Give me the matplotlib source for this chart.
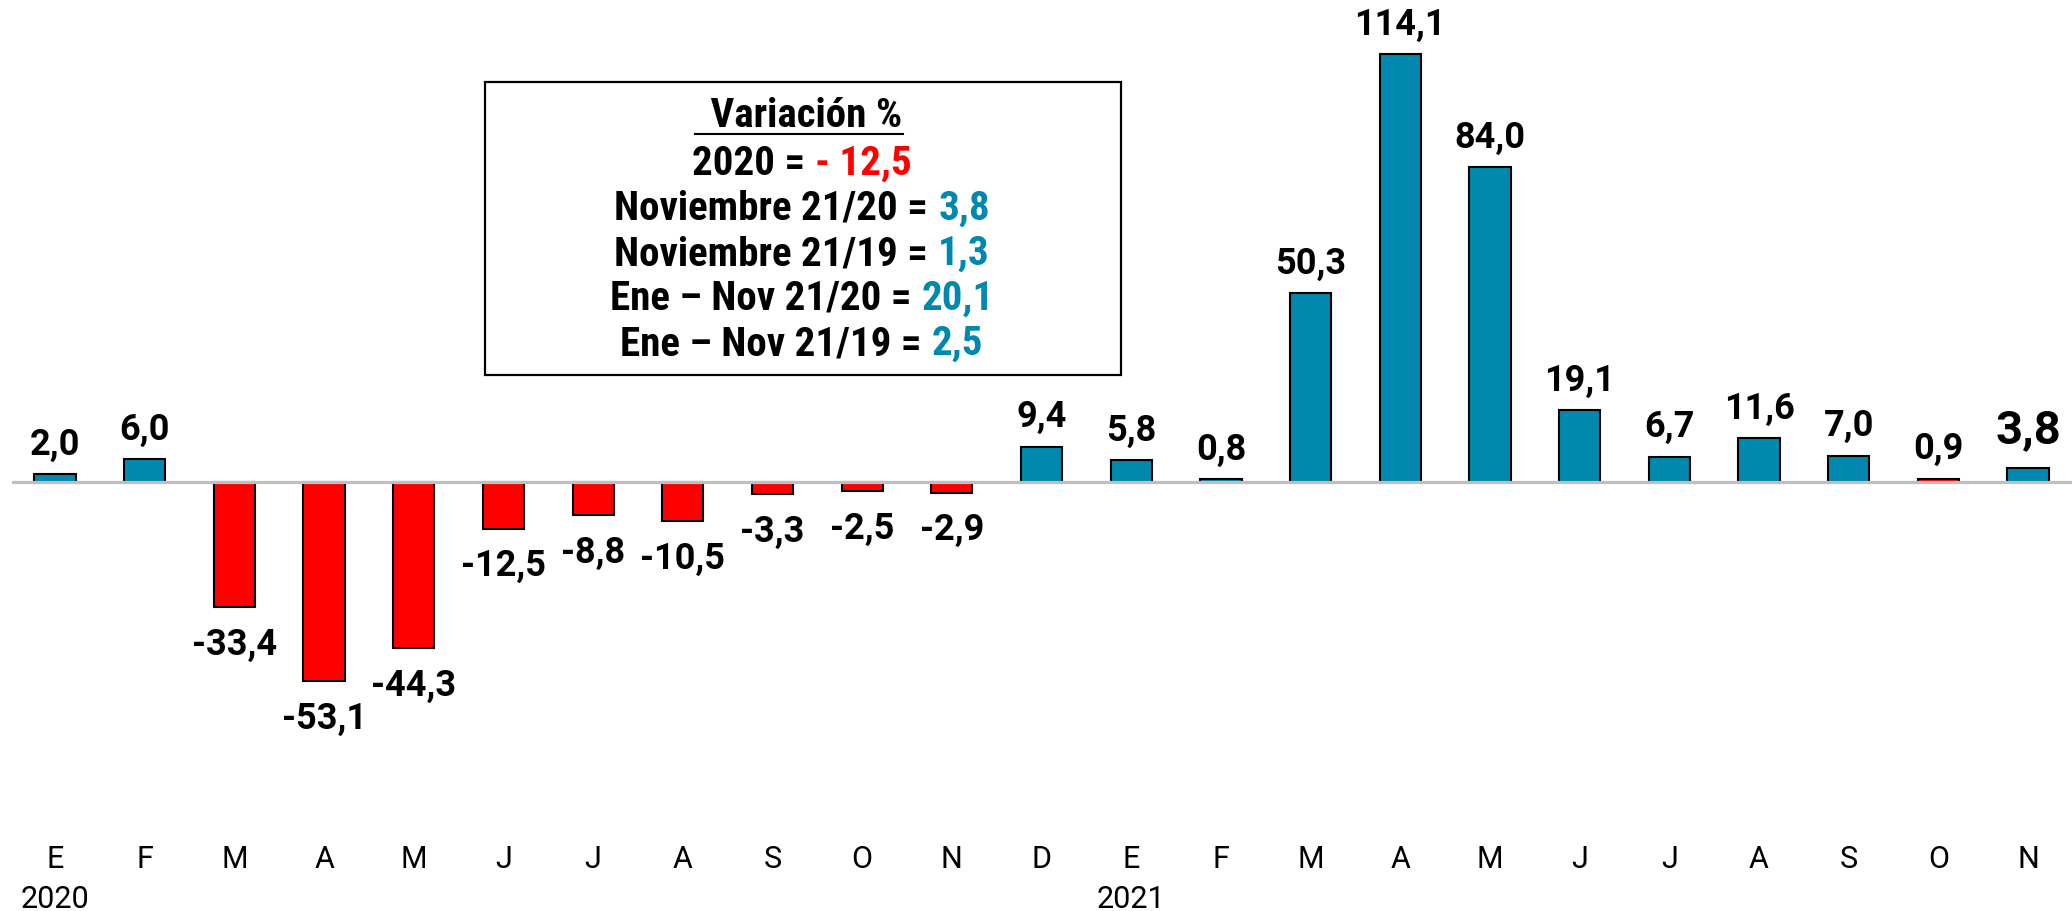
import matplotlib.pyplot as plt
from matplotlib import font_manager
from matplotlib.lines import Line2D
from matplotlib.patches import Rectangle

# Datos
meses = ['E', 'F', 'M', 'A', 'M', 'J', 'J', 'A', 'S', 'O', 'N', 'D',
         'E', 'F', 'M', 'A', 'M', 'J', 'J', 'A', 'S', 'O', 'N']
variacion = [2.0, 6.0, -33.4, -53.1, -44.3, -12.5, -8.8, -10.5, -3.3, -2.5, -2.9, 9.4,
             5.8, 0.8, 50.3, 114.1, 84.0, 19.1, 6.7, 11.6, 7.0, 0.9, 3.8]
anios = ['2020', '2021']
pos_anios = [0, 12]

titulo_recuadro = ' Variación %'
texto_negro = ['2020 =', 'Noviembre 21/20 =', 'Noviembre 21/19 =',
               'Ene \u2013 Nov 21/20 =', 'Ene \u2013 Nov 21/19 =']
texto_color = ['- 12,5', '3,8', '1,3', '20,1', '2,5']

AZUL = '#0088AE'
ROJO = '#FF0000'
colores_texto = [ROJO, AZUL, AZUL, AZUL, AZUL]
colores = [ROJO if v < 0 else AZUL for v in variacion]
colores[21] = ROJO  # octubre 2021 aparece rojizo

nombres = {f.name for f in font_manager.fontManager.ttflist}
fuente_cond = next((n for n in ['Roboto Condensed', 'Liberation Sans Narrow'] if n in nombres), 'Roboto')
plt.rcParams['font.family'] = ['Roboto', 'DejaVu Sans']

W, H = 2072, 911
fig = plt.figure(figsize=(W / 100, H / 100), dpi=100)
ax = fig.add_axes([12 / W, 91 / H, (W - 12) / W, 820 / H])

x = list(range(len(variacion)))
ax.bar(x, variacion, width=0.46, color=colores, edgecolor='black', linewidth=1.5, zorder=2)
ax.axhline(0, color='#BFBFBF', linewidth=2.3, zorder=3)

ax.set_xlim(-0.48, 22.49)
ax.set_ylim(-90.13, 128.5)
for s in ax.spines.values():
    s.set_visible(False)
ax.set_yticks([])
ax.set_xticks(x, meses, fontsize=22)
ax.tick_params(axis='x', length=0, pad=18)

for xi, anio in zip(pos_anios, anios):
    ax.text(xi, -0.107, anio, transform=ax.get_xaxis_transform(), ha='center',
            va='baseline', fontsize=22)

# Etiquetas de valores
for i, v in enumerate(variacion):
    txt = f'{v:.1f}'.replace('.', ',')
    ultimo = i == len(variacion) - 1
    size = 34 if ultimo else 26
    if v >= 0:
        ax.annotate(txt, (i, v), xytext=(0, 18 if ultimo else 14), textcoords='offset points',
                    ha='center', va='baseline', fontsize=size, fontweight='bold')
    else:
        ax.annotate(txt, (i, v), xytext=(0, -14), textcoords='offset points',
                    ha='center', va='top', fontsize=size, fontweight='bold')

# Recuadro
fig.patches.append(Rectangle((485 / W, (H - 375) / H), 636 / W, 293 / H, transform=fig.transFigure,
                             fill=False, edgecolor='black', linewidth=1.6))

cx = 802
fs = 29.5
ys = [164, 209, 254, 299, 344]
t_tit = fig.text(cx / W, 1 - 116 / H, titulo_recuadro, ha='center', va='center',
                 fontsize=fs, fontweight='bold', family=[fuente_cond, 'DejaVu Sans'])
lineas = []
for negro, col, c, y in zip(texto_negro, texto_color, colores_texto, ys):
    t1 = fig.text(0, 1 - y / H, negro, ha='left', va='center', fontsize=fs,
                  fontweight='bold', family=[fuente_cond, 'DejaVu Sans'])
    t2 = fig.text(0, 1 - y / H, col, ha='left', va='center', fontsize=fs,
                  fontweight='bold', color=c, family=[fuente_cond, 'DejaVu Sans'])
    lineas.append((t1, t2))

fig.canvas.draw()
r = fig.canvas.get_renderer()
esp = fs * 0.25 * 100 / 72
for t1, t2 in lineas:
    w1 = t1.get_window_extent(r).width
    w2 = t2.get_window_extent(r).width
    x0 = cx - (w1 + esp + w2) / 2
    t1.set_x(x0 / W)
    t2.set_x((x0 + w1 + esp) / W)

bb = t_tit.get_window_extent(r)
fig.add_artist(Line2D([(bb.x0 - esp * 0.6) / W, bb.x1 / W], [(H - 134) / H] * 2,
                      transform=fig.transFigure, color='black', linewidth=1.5))

fig.savefig('out.png', dpi=100)
